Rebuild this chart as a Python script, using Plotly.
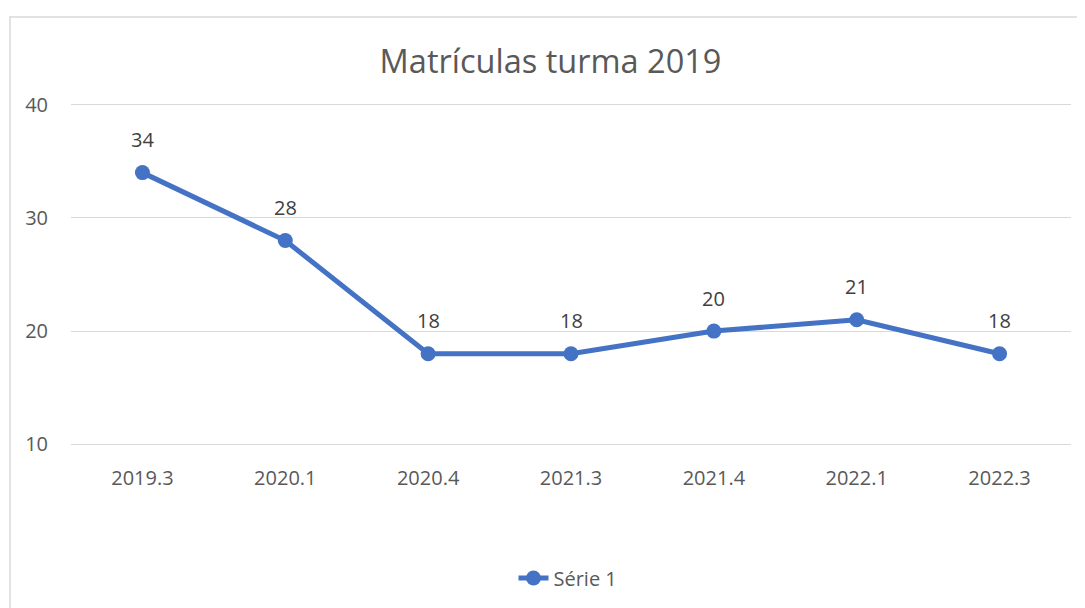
import plotly.graph_objects as go

categorias = ["2019.3", "2020.1", "2020.4", "2021.3", "2021.4", "2022.1", "2022.3"]
matriculas = [34, 28, 18, 18, 20, 21, 18]
serie_nome = "Série 1"
titulo = "Matrículas turma 2019"

AZUL = "#4472C4"
CINZA = "#595959"
FONTE = "Open Sans"

fig = go.Figure()
fig.add_trace(go.Scatter(
    x=categorias, y=matriculas, name=serie_nome, mode="lines+markers",
    line=dict(color=AZUL, width=5), marker=dict(color=AZUL, size=15),
))

# rótulos de dados (posição pelo índice da categoria)
for i, v in enumerate(matriculas):
    fig.add_annotation(x=i, y=v, text=str(v), showarrow=False, yshift=33,
                       font=dict(family=FONTE, size=20, color="#404040"))

# moldura do gráfico (estilo Excel)
fig.add_shape(type="rect", xref="paper", yref="paper", x0=-0.061, x1=1.05, y0=-0.55, y1=1.2507,
              line=dict(color="#D9D9D9", width=1.5), layer="below")

fig.update_layout(
    title=dict(text=titulo, x=0.5, xanchor="center", y=0.911, yanchor="middle",
               font=dict(family=FONTE, size=32.5, color=CINZA)),
    width=1085, height=608,
    margin=dict(l=63, r=22, t=95, b=170),
    paper_bgcolor="white", plot_bgcolor="white",
    font=dict(family=FONTE, size=20, color=CINZA),
    showlegend=True,
    legend=dict(orientation="h", x=0.497, xanchor="center", y=-0.385, yanchor="middle",
                font=dict(size=20, color=CINZA)),
    xaxis=dict(type="category", range=[-0.5, 6.5], showgrid=False, showline=False,
               zeroline=False, ticks="", ticklabelstandoff=18),
    yaxis=dict(range=[9.85, 40.15], tickvals=[10, 20, 30, 40], showgrid=True,
               gridcolor="#D9D9D9", gridwidth=1.3, zeroline=False, showline=False,
               ticks="", ticklabelstandoff=22),
)

fig.write_html("out.html")
